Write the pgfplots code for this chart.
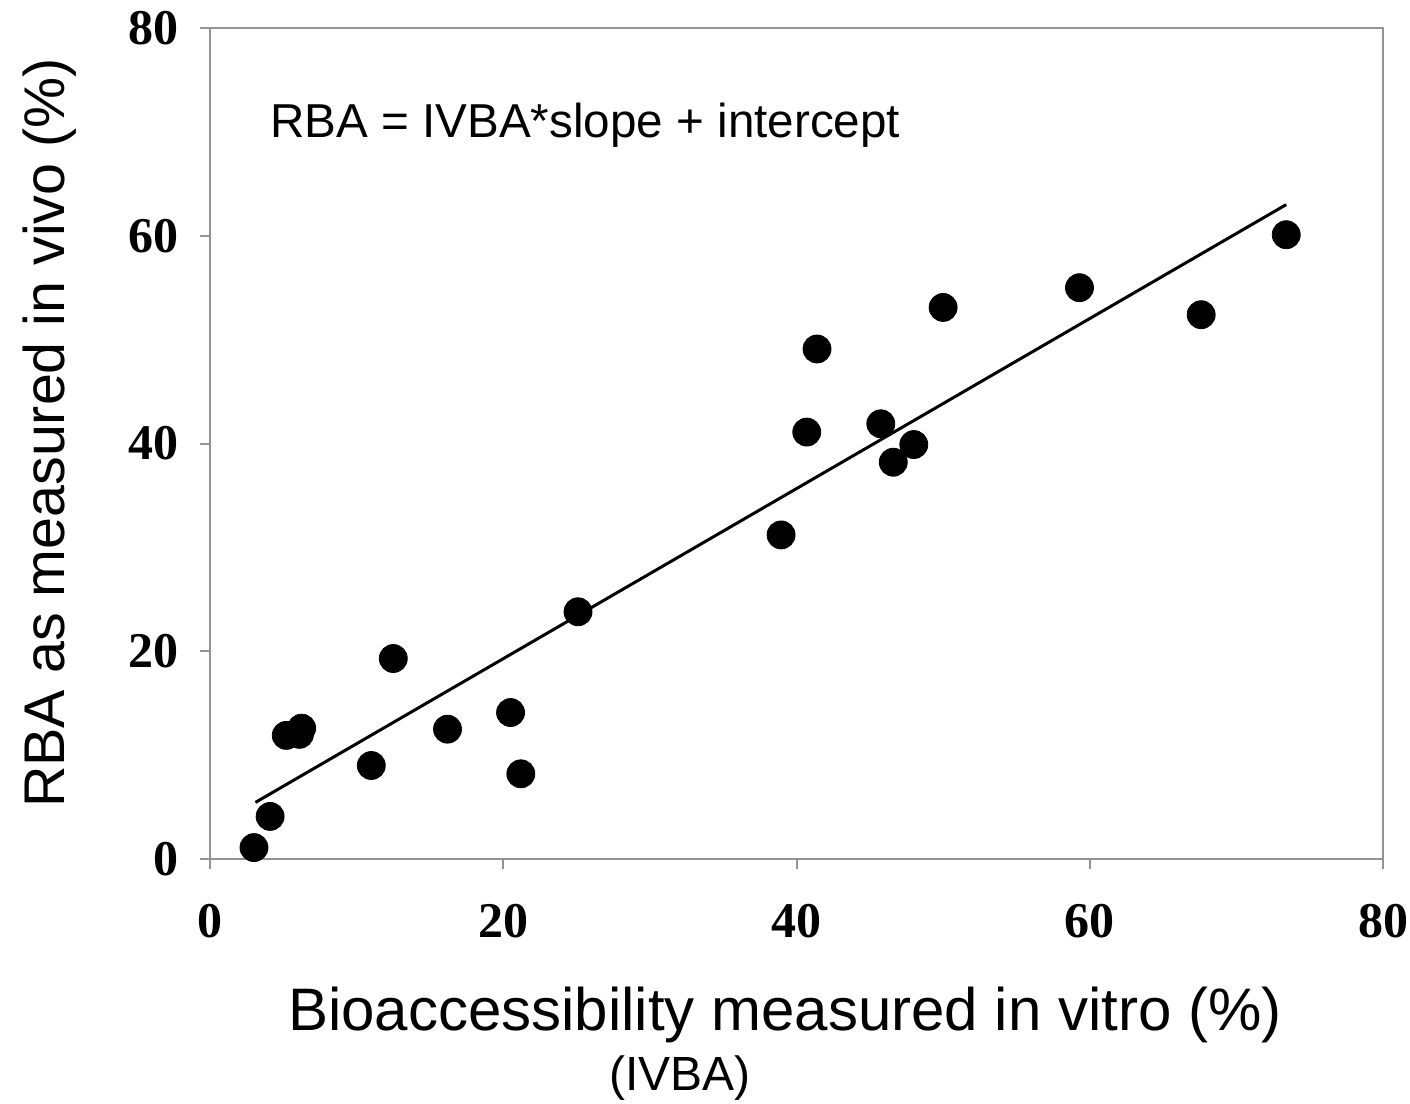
\documentclass[border=0pt]{standalone}
\usepackage{fontspec}
\setmainfont{Liberation Sans}
\newfontfamily\tnr{Liberation Serif}
\usepackage{pgfplots}
\pgfplotsset{compat=1.18}
\begin{document}
\begin{tikzpicture}
\path[use as bounding box] (-105pt,-122.5pt) rectangle (600pt,429.5pt);
\begin{axis}[
  scale only axis, width=586.5pt, height=415.5pt,
  at={(0pt,0pt)}, anchor=origin,
  xmin=0, xmax=80, ymin=0, ymax=80,
  xtick={0,20,40,60,80}, ytick={0,20,40,60,80},
  tick pos=left, tick align=outside, major tick length=5pt,
  axis line style={draw=gray!85, line width=1pt},
  every tick/.style={draw=gray!85, line width=1pt},
  /pgf/number format/assume math mode=true,
  ticklabel style={font=\tnr\bfseries\fontsize{25}{25}\selectfont},
  xticklabel style={yshift=-14pt},
  yticklabel style={xshift=-7pt},
  clip=false,
]
\addplot[line width=1.5pt, black] coordinates {(3.1,5.45) (73.4,63.0)};
\addplot[only marks, mark=*, mark size=7pt, black] coordinates {
(3.0,1.1) (4.1,4.1) (5.2,11.9) (6.1,12.0) (6.25,12.6)
(11.0,9.0) (12.5,19.3) (16.2,12.5) (20.5,14.1) (21.2,8.2)
(25.1,23.8) (38.95,31.2) (40.7,41.1) (41.4,49.1) (45.75,41.9)
(46.6,38.2) (48.0,39.9) (50.0,53.1) (59.3,55.0) (67.6,52.4) (73.4,60.1)
};
\end{axis}
\node[font=\fontsize{23.8}{23.8}\selectfont, anchor=west, inner sep=0pt] at (30pt,367pt) {RBA = IVBA*slope + intercept};
\node[font=\fontsize{30}{30}\selectfont] at (287.5pt,-78pt) {Bioaccessibility measured in vitro (\%)};
\node[font=\fontsize{24}{24}\selectfont] at (235pt,-109.5pt) {(IVBA)};
\node[font=\fontsize{28.7}{28.7}\selectfont, rotate=90] at (-80pt,213pt) {RBA as measured in vivo (\%)};
\end{tikzpicture}
\end{document}
